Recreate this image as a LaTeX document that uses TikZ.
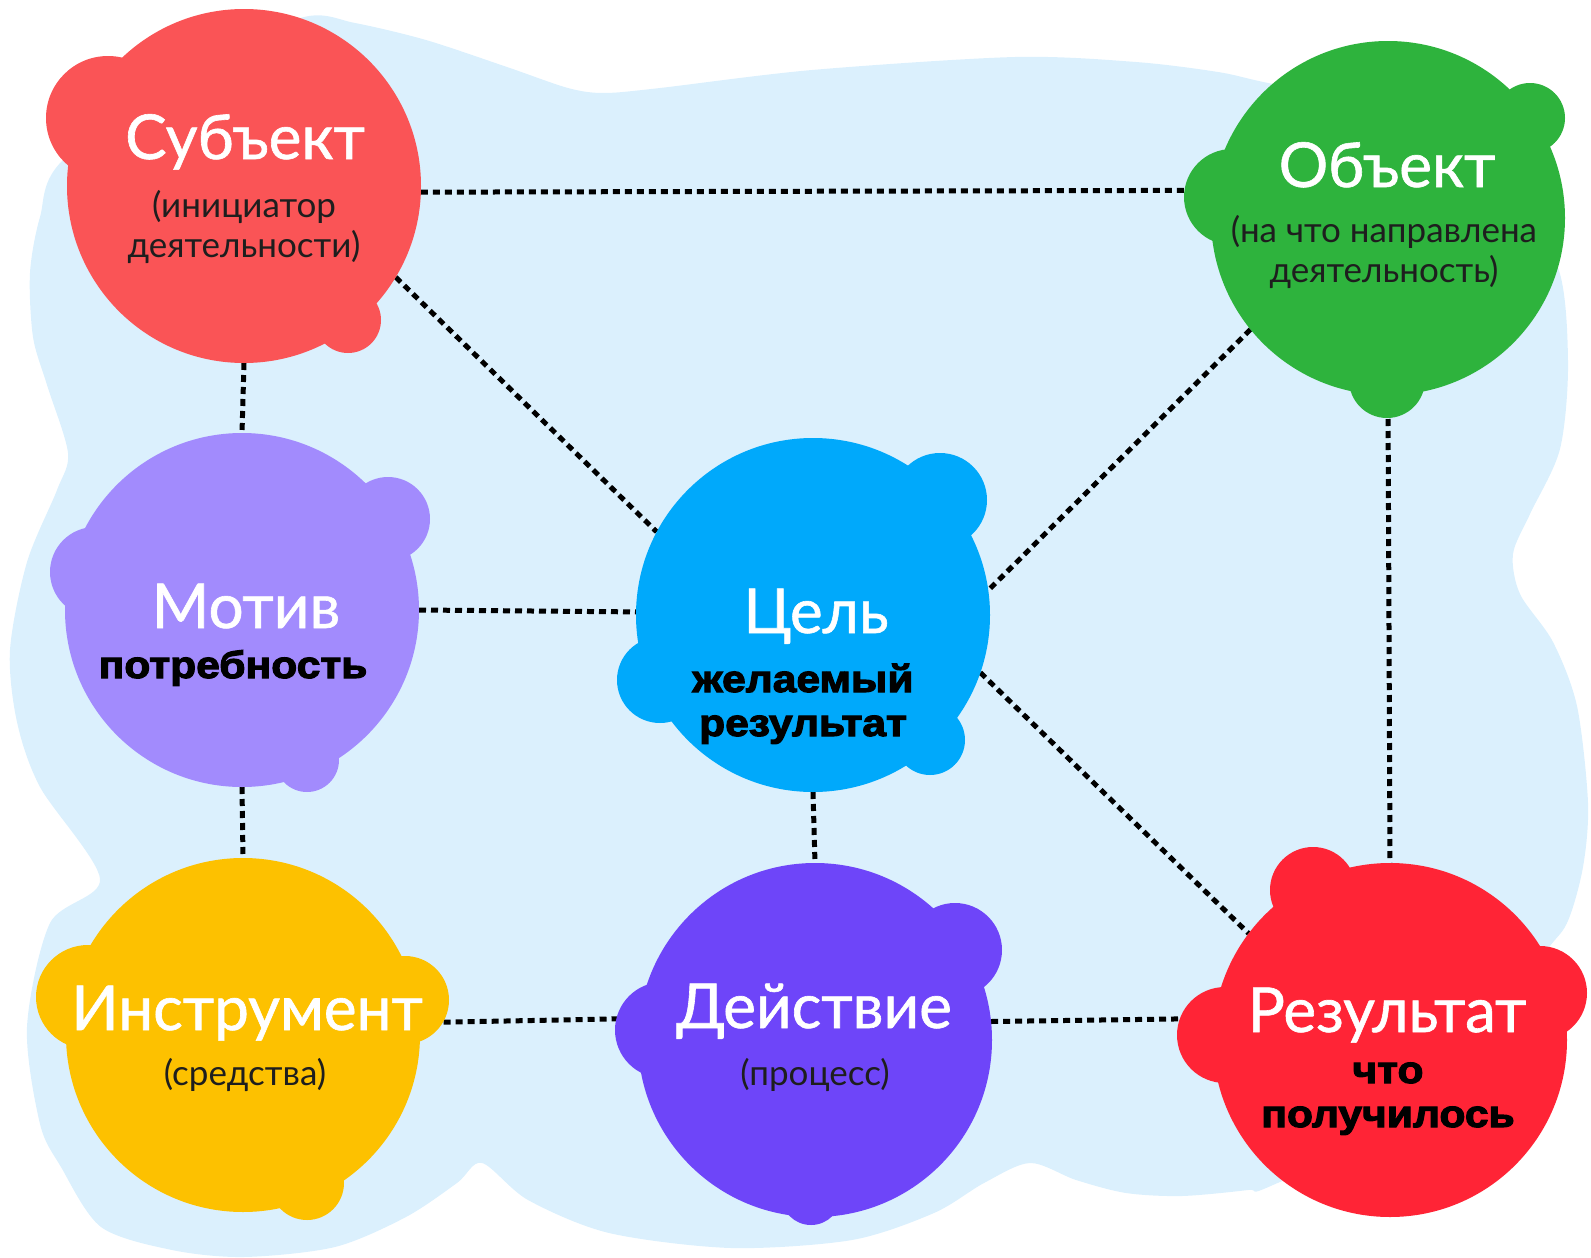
\documentclass[tikz,border=0pt]{standalone}
\usepackage{fontspec}
\setmainfont{Lato}
\newfontfamily\ttlfont{Lato}[FakeBold=1]
\newfontfamily\heavy{Liberation Sans Bold}[FakeBold=3,FakeStretch=1.12]
\definecolor{bgblue}{HTML}{DBF0FD}
\definecolor{csub}{HTML}{FA5456}
\definecolor{cobj}{HTML}{2EB33D}
\definecolor{cmot}{HTML}{A28BFD}
\definecolor{ccel}{HTML}{00A9FB}
\definecolor{cins}{HTML}{FDC100}
\definecolor{cdei}{HTML}{6E45F9}
\definecolor{cres}{HTML}{FF2436}
\definecolor{notetxt}{HTML}{1E1E1E}
\pgfdeclarelayer{bg}
\pgfsetlayers{bg,main}
\begin{document}
\begin{tikzpicture}[x=1pt,y=-1pt,
  blob/.style={circle,minimum size=354pt,inner sep=0pt,outer sep=0pt},
  conn/.style={line width=5pt,dash pattern=on 7pt off 5pt,black},
  ttl/.style={text=white,font=\ttlfont\fontsize{62}{70}\selectfont,inner sep=0pt,anchor=base},
  note/.style={text=notetxt,font=\fontsize{35}{40}\selectfont,align=center,inner sep=0pt,anchor=base},
  hv/.style={text=black,font=\heavy\fontsize{38}{44}\selectfont,align=center,inner sep=0pt,anchor=base}]
\useasboundingbox (0,0) rectangle (1591,1258);
\begin{pgfonlayer}{bg}
\fill[bgblue] plot[smooth cycle, tension=0.5] coordinates {
(200,60) (304,17) (355,23) (426,40) (507,67) (568,88) (604,93) (660,88) (812,70) (1015,57) (1136,62) (1218,72) (1268,83)
(1400,110) (1500,200) (1557,265) (1568,361) (1560,449) (1530,514) (1513,554) (1520,594) (1553,642) (1577,706) (1588,803) (1583,867) (1567,923) (1540,960)
(1450,1100) (1273,1185) (1248,1190) (1182,1196) (1126,1193) (1076,1180) (1030,1163) (984,1183) (934,1213) (852,1240) (731,1248) (609,1233) (528,1200) (482,1163)
(457,1183) (406,1217) (335,1247) (244,1257) (172,1250) (101,1227) (61,1167) (40,1124) (27,1027) (50,923) (100,879) (40,787) (17,722) (10,650) (27,562) (57,490) (68,453)
(47,385) (33,337) (30,273) (40,217) (63,160)};
\end{pgfonlayer}
% main circles
\node[blob,fill=csub] (sub) at (244,186) {};
\node[blob,fill=cobj] (obj) at (1388,218) {};
\node[blob,fill=cmot] (mot) at (242,610) {};
\node[blob,fill=ccel] (cel) at (813,615) {};
\node[blob,fill=cins] (ins) at (243,1035) {};
\node[blob,fill=cdei] (dei) at (815,1040) {};
\node[blob,fill=cres] (res) at (1390,1040) {};
% bumps
\fill[csub] (108,118) circle[radius=62pt] (348,320) circle[radius=33pt];
\fill[cobj] (1232,197) circle[radius=48pt] (1530,118) circle[radius=35pt] (1387,380) circle[radius=38pt];
\fill[cmot] (95,572) circle[radius=45pt] (388,519) circle[radius=42pt] (307,760) circle[radius=32pt];
\fill[ccel] (940,500) circle[radius=47pt] (660,680) circle[radius=43pt] (930,740) circle[radius=35pt];
\fill[cins] (88,997) circle[radius=52pt] (405,1000) circle[radius=44pt] (307,1183) circle[radius=37pt];
\fill[cdei] (663,1030) circle[radius=48pt] (955,950) circle[radius=47pt] (811,1195) circle[radius=30pt];
\fill[cres] (1313,890) circle[radius=43pt] (1225,1035) circle[radius=48pt] (1540,993) circle[radius=47pt];
% connectors
\begin{pgfonlayer}{bg}
\draw[conn] (sub.-2.3) -- (obj.171.9);
\draw[conn] (sub.-31.5) -- (cel.152.7);
\draw[conn] (obj.-141.3) -- (cel.8.7);
\draw[conn] (sub.-90) -- (mot.90);
\draw[conn] (mot.0) -- (cel.179);
\draw[conn] (mot.-90) -- (ins.90);
\draw[conn] (cel.-90) -- (dei.90);
\draw[conn] (cel.-19.3) -- (res.143.4);
\draw[conn] (obj.-90) -- (res.90);
\draw[conn] (ins.4.9) -- (dei.173.5);
\draw[conn] (dei.6.5) -- (res.173.5);
\end{pgfonlayer}
% texts
\node[ttl] (subT) at (245,159) {Субъект};
\node[note] (subN) at (244,257) {(инициатор\\деятельности)};
\node[ttl] (objT) at (1387,187) {Объект};
\node[note] (objN) at (1384,282) {(на что направлена\\деятельность)};
\node[ttl] (motT) at (246,628) {Мотив};
\node[hv] (motN) at (233,678) {потребность};
\node[ttl] (celT) at (816,633) {Цель};
\node[hv] (celN) at (803,736) {желаемый\\результат};
\node[ttl] (insT) at (247,1030) {Инструмент};
\node[note] (insN) at (245,1085) {(средства)};
\node[ttl] (deiT) at (814,1028) {Действие};
\node[note] (deiN) at (815,1085) {(процесс)};
\node[ttl] (resT) at (1387,1032) {Результат};
\node[hv] (resN) at (1388,1127) {что\\получилось};
\end{tikzpicture}
\end{document}
